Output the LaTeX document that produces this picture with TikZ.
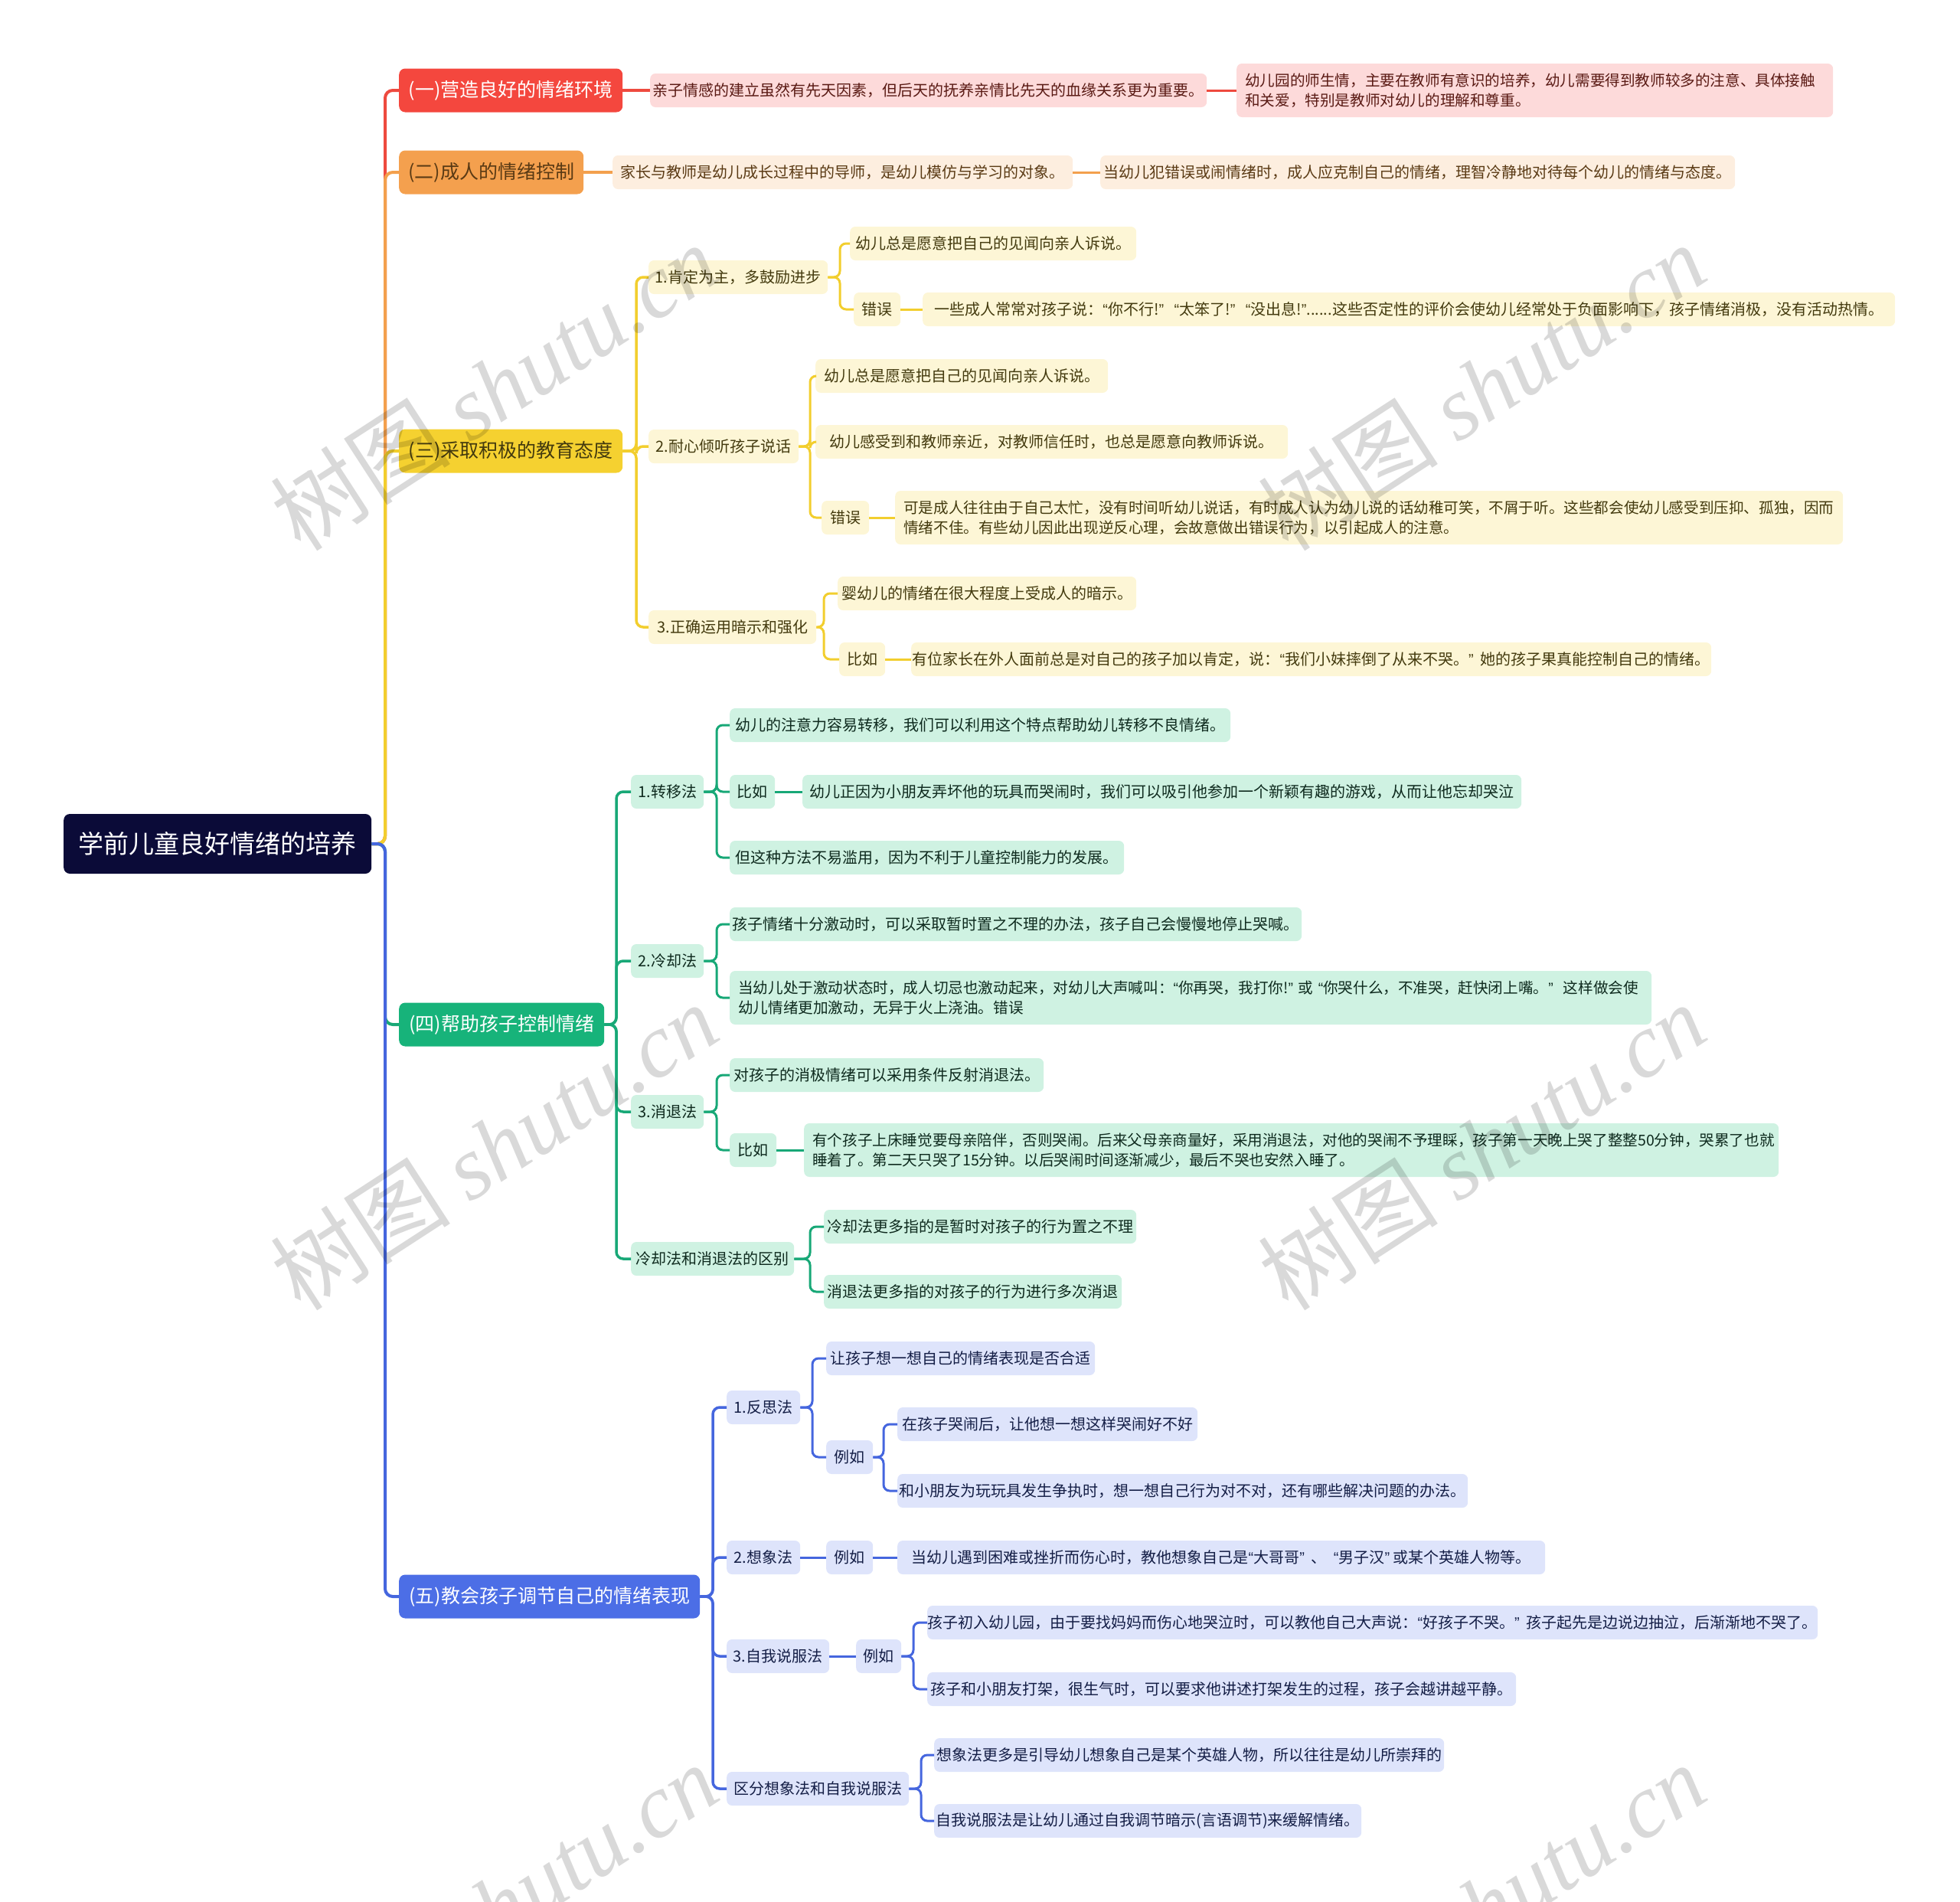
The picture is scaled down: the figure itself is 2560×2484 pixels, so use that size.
\documentclass[tikz,border=0pt]{standalone}
\usepackage{fontspec}
\newfontfamily\cjk{Noto Sans CJK SC}
\newfontfamily\latq{Liberation Sans}
\newfontfamily\wmserif{Liberation Serif}
\newcommand\qo{{\latq “}}
\newcommand\qc{{\latq ”}}
\usetikzlibrary{calc}
\definecolor{rootc}{HTML}{0B0B38}
\definecolor{redbox}{HTML}{F4473E}
\definecolor{redln}{HTML}{EE4A3F}
\definecolor{redlf}{HTML}{FDDADA}
\definecolor{redtx}{HTML}{5A1A14}
\definecolor{orgbox}{HTML}{F4A04E}
\definecolor{orgln}{HTML}{F3A04D}
\definecolor{orglf}{HTML}{FDEEDF}
\definecolor{orgtx}{HTML}{5A3A14}
\definecolor{yelbox}{HTML}{F5D130}
\definecolor{yelln}{HTML}{F2CE2E}
\definecolor{yellf}{HTML}{FDF6D6}
\definecolor{yeltx}{HTML}{433A0E}
\definecolor{grnbox}{HTML}{17B37A}
\definecolor{grnln}{HTML}{18A877}
\definecolor{grnlf}{HTML}{CFF2E2}
\definecolor{grntx}{HTML}{0E2A1E}
\definecolor{blubox}{HTML}{4C6EE6}
\definecolor{bluln}{HTML}{4566DE}
\definecolor{blulf}{HTML}{DEE4FB}
\definecolor{blutx}{HTML}{141E46}
\tikzset{
  nbase/.style={anchor=west, inner sep=0pt, rounded corners=7pt, font=\cjk\fontsize{20}{26}\selectfont, minimum height=44pt},
  rootbox/.style={nbase, fill=rootc, text=white, minimum height=78pt, font=\cjk\fontsize{33}{40}\selectfont, rounded corners=8pt},
  lone/.style={nbase, minimum height=57pt, font=\cjk\fontsize{25}{30}\selectfont, rounded corners=8pt},
  two/.style={minimum height=70pt, align=left, inner xsep=11pt, font=\cjk\fontsize{19.6}{26}\selectfont},
  rA/.style={lone, fill=redbox, text=white},
  oA/.style={lone, fill=orgbox, text=orgtx},
  yA/.style={lone, fill=yelbox, text=yeltx},
  gA/.style={lone, fill=grnbox, text=white},
  bA/.style={lone, fill=blubox, text=white},
  rL/.style={nbase, fill=redlf, text=redtx},
  oL/.style={nbase, fill=orglf, text=orgtx},
  yL/.style={nbase, fill=yellf, text=yeltx},
  gL/.style={nbase, fill=grnlf, text=grntx},
  bL/.style={nbase, fill=blulf, text=blutx},
  cone/.style={line width=4pt, rounded corners=10pt},
  ctwo/.style={line width=3.5pt, rounded corners=9pt},
  cthree/.style={line width=3pt, rounded corners=8pt},
  wmark/.style={anchor=center, rotate=33, text=black, text opacity=0.15, inner sep=0pt}
}
\newcommand\nd[6]{\node[#2, minimum width={#4pt-#3pt}] (#1) at (#3,#5) {#6};}
\newcommand\ndt[6]{\node[#2, two, text width={#4pt-#3pt-22pt}] (#1) at (#3,#5) {#6};}
\newcommand\cn[4]{\draw[#1] let \p1=(#2.east) in (\p1) -- (#4pt,\y1) |- (#3.west);}
\begin{document}
\begin{tikzpicture}[x=1pt,y=-1pt]
\useasboundingbox (0,0) rectangle (2560,2484);
% root
\nd{root}{rootbox}{83}{485}{1102}{学前儿童良好情绪的培养}
% level 1
\nd{a}{rA}{521}{813}{118}{(一)营造良好的情绪环境}
\nd{b}{oA}{521}{762}{225}{(二)成人的情绪控制}
\nd{c}{yA}{521}{813}{589}{(三)采取积极的教育态度}
\nd{d}{gA}{521}{789}{1338}{(四)帮助孩子控制情绪}
\nd{e}{bA}{521}{914}{2085}{(五)教会孩子调节自己的情绪表现}
% red
\nd{a1}{rL}{849}{1576}{118}{亲子情感的建立虽然有先天因素，但后天的抚养亲情比先天的血缘关系更为重要。}
\ndt{a2}{rL}{1615}{2394}{118}{幼儿园的师生情，主要在教师有意识的培养，幼儿需要得到教师较多的注意、具体接触\\和关爱，特别是教师对幼儿的理解和尊重。}
% orange
\nd{b1}{oL}{800}{1401}{225}{家长与教师是幼儿成长过程中的导师，是幼儿模仿与学习的对象。}
\nd{b2}{oL}{1437}{2266}{225}{当幼儿犯错误或闹情绪时，成人应克制自己的情绪，理智冷静地对待每个幼儿的情绪与态度。}
% yellow
\nd{c1}{yL}{847}{1081}{362}{1.肯定为主，多鼓励进步}
\nd{c2}{yL}{847}{1043}{583}{2.耐心倾听孩子说话}
\nd{c3}{yL}{847}{1066}{819}{3.正确运用暗示和强化}
\nd{c1a}{yL}{1110}{1484}{318}{幼儿总是愿意把自己的见闻向亲人诉说。}
\nd{c1b}{yL}{1115}{1176}{404}{错误}
\nd{c1bb}{yL}{1205}{2475}{404}{一些成人常常对孩子说：\qo 你不行!\qc\ \ \ \qo 太笨了!\qc\ \ \ \qo 没出息!\qc ......这些否定性的评价会使幼儿经常处于负面影响下，孩子情绪消极，没有活动热情。}
\nd{c2a}{yL}{1065}{1447}{491}{幼儿总是愿意把自己的见闻向亲人诉说。}
\nd{c2b}{yL}{1065}{1682}{577}{幼儿感受到和教师亲近，对教师信任时，也总是愿意向教师诉说。}
\nd{c2c}{yL}{1073}{1135}{676}{错误}
\ndt{c2cc}{yL}{1169}{2407}{676}{可是成人往往由于自己太忙，没有时间听幼儿说话，有时成人认为幼儿说的话幼稚可笑，不屑于听。这些都会使幼儿感受到压抑、孤独，因而\\情绪不佳。有些幼儿因此出现逆反心理，会故意做出错误行为，以引起成人的注意。}
\nd{c3a}{yL}{1094}{1484}{775}{婴幼儿的情绪在很大程度上受成人的暗示。}
\nd{c3b}{yL}{1096}{1156}{861}{比如}
\nd{c3bb}{yL}{1190}{2235}{861}{有位家长在外人面前总是对自己的孩子加以肯定，说：\qo 我们小妹摔倒了从来不哭。\qc\ \ 她的孩子果真能控制自己的情绪。}
% green
\nd{d1}{gL}{824}{919}{1034}{1.转移法}
\nd{d2}{gL}{824}{919}{1255}{2.冷却法}
\nd{d3}{gL}{824}{919}{1452}{3.消退法}
\nd{d4}{gL}{824}{1037}{1644}{冷却法和消退法的区别}
\nd{d1a}{gL}{953}{1607}{947}{幼儿的注意力容易转移，我们可以利用这个特点帮助幼儿转移不良情绪。}
\nd{d1b}{gL}{953}{1012}{1034}{比如}
\nd{d1bb}{gL}{1048}{1987}{1034}{幼儿正因为小朋友弄坏他的玩具而哭闹时，我们可以吸引他参加一个新颖有趣的游戏，从而让他忘却哭泣}
\nd{d1c}{gL}{953}{1468}{1120}{但这种方法不易滥用，因为不利于儿童控制能力的发展。}
\nd{d2a}{gL}{953}{1700}{1207}{孩子情绪十分激动时，可以采取暂时置之不理的办法，孩子自己会慢慢地停止哭喊。}
\ndt{d2b}{gL}{953}{2157}{1303}{当幼儿处于激动状态时，成人切忌也激动起来，对幼儿大声喊叫：\qo 你再哭，我打你!\qc\ 或\ \qo 你哭什么，不准哭，赶快闭上嘴。\qc\ \ 这样做会使\\幼儿情绪更加激动，无异于火上浇油。错误}
\nd{d3a}{gL}{953}{1363}{1404}{对孩子的消极情绪可以采用条件反射消退法。}
\nd{d3b}{gL}{953}{1014}{1502}{比如}
\ndt{d3bb}{gL}{1050}{2323}{1502}{有个孩子上床睡觉要母亲陪伴，否则哭闹。后来父母亲商量好，采用消退法，对他的哭闹不予理睬，孩子第一天晚上哭了整整50分钟，哭累了也就\\睡着了。第二天只哭了15分钟。以后哭闹时间逐渐减少，最后不哭也安然入睡了。}
\nd{d4a}{gL}{1076}{1484}{1602}{冷却法更多指的是暂时对孩子的行为置之不理}
\nd{d4b}{gL}{1076}{1465}{1687}{消退法更多指的对孩子的行为进行多次消退}
% blue
\nd{e1}{bL}{949}{1045}{1838}{1.反思法}
\nd{e2}{bL}{949}{1045}{2034}{2.想象法}
\nd{e3}{bL}{949}{1083}{2163}{3.自我说服法}
\nd{e4}{bL}{949}{1187}{2336}{区分想象法和自我说服法}
\nd{e1a}{bL}{1079}{1430}{1774}{让孩子想一想自己的情绪表现是否合适}
\nd{e1b}{bL}{1079}{1140}{1903}{例如}
\nd{e1b1}{bL}{1172}{1564}{1860}{在孩子哭闹后，让他想一想这样哭闹好不好}
\nd{e1b2}{bL}{1172}{1917}{1947}{和小朋友为玩玩具发生争执时，想一想自己行为对不对，还有哪些解决问题的办法。}
\nd{e2a}{bL}{1079}{1140}{2034}{例如}
\nd{e2aa}{bL}{1172}{2018}{2034}{当幼儿遇到困难或挫折而伤心时，教他想象自己是\qo 大哥哥\qc\ \ 、\ \ \qo 男子汉\qc\ 或某个英雄人物等。}
\nd{e3a}{bL}{1118}{1177}{2163}{例如}
\nd{e3a1}{bL}{1211}{2374}{2119}{孩子初入幼儿园，由于要找妈妈而伤心地哭泣时，可以教他自己大声说：\qo 好孩子不哭。\qc\ \ 孩子起先是边说边抽泣，后渐渐地不哭了。}
\nd{e3a2}{bL}{1211}{1980}{2206}{孩子和小朋友打架，很生气时，可以要求他讲述打架发生的过程，孩子会越讲越平静。}
\nd{e4a}{bL}{1220}{1886}{2292}{想象法更多是引导幼儿想象自己是某个英雄人物，所以往往是幼儿所崇拜的}
\nd{e4b}{bL}{1220}{1778}{2378}{自我说服法是让幼儿通过自我调节暗示(言语调节)来缓解情绪。}
% connectors root
\cn{cone,redln}{root}{a}{503}
\cn{cone,orgln}{root}{b}{503}
\cn{cone,yelln}{root}{c}{503}
\cn{cone,grnln}{root}{d}{503}
\cn{cone,bluln}{root}{e}{503}
% red / orange chains
\draw[ctwo,redln] (a.east) -- (a1.west);
\draw[cthree,redln] (a1.east) -- (a2.west);
\draw[ctwo,orgln] (b.east) -- (b1.west);
\draw[cthree,orgln] (b1.east) -- (b2.west);
% yellow
\cn{ctwo,yelln}{c}{c1}{831}
\cn{ctwo,yelln}{c}{c2}{831}
\cn{ctwo,yelln}{c}{c3}{831}
\cn{cthree,yelln}{c1}{c1a}{1097}
\cn{cthree,yelln}{c1}{c1b}{1097}
\draw[cthree,yelln] (c1b.east) -- (c1bb.west);
\cn{cthree,yelln}{c2}{c2a}{1058}
\cn{cthree,yelln}{c2}{c2b}{1058}
\cn{cthree,yelln}{c2}{c2c}{1058}
\draw[cthree,yelln] (c2c.east) -- (c2cc.west);
\cn{cthree,yelln}{c3}{c3a}{1076}
\cn{cthree,yelln}{c3}{c3b}{1076}
\draw[cthree,yelln] (c3b.east) -- (c3bb.west);
% green
\cn{ctwo,grnln}{d}{d1}{805}
\cn{ctwo,grnln}{d}{d2}{805}
\cn{ctwo,grnln}{d}{d3}{805}
\cn{ctwo,grnln}{d}{d4}{805}
\cn{cthree,grnln}{d1}{d1a}{936}
\cn{cthree,grnln}{d1}{d1b}{936}
\cn{cthree,grnln}{d1}{d1c}{936}
\draw[cthree,grnln] (d1b.east) -- (d1bb.west);
\cn{cthree,grnln}{d2}{d2a}{936}
\cn{cthree,grnln}{d2}{d2b}{936}
\cn{cthree,grnln}{d3}{d3a}{936}
\cn{cthree,grnln}{d3}{d3b}{936}
\draw[cthree,grnln] (d3b.east) -- (d3bb.west);
\cn{cthree,grnln}{d4}{d4a}{1058}
\cn{cthree,grnln}{d4}{d4b}{1058}
% blue
\cn{ctwo,bluln}{e}{e1}{931}
\cn{ctwo,bluln}{e}{e2}{931}
\cn{ctwo,bluln}{e}{e3}{931}
\cn{ctwo,bluln}{e}{e4}{931}
\cn{cthree,bluln}{e1}{e1a}{1061}
\cn{cthree,bluln}{e1}{e1b}{1061}
\cn{cthree,bluln}{e1b}{e1b1}{1154}
\cn{cthree,bluln}{e1b}{e1b2}{1154}
\draw[cthree,bluln] (e2.east) -- (e2a.west);
\draw[cthree,bluln] (e2a.east) -- (e2aa.west);
\draw[cthree,bluln] (e3.east) -- (e3a.west);
\cn{cthree,bluln}{e3a}{e3a1}{1193}
\cn{cthree,bluln}{e3a}{e3a2}{1193}
\cn{cthree,bluln}{e4}{e4a}{1203}
\cn{cthree,bluln}{e4}{e4b}{1203}
% watermarks
\begin{scope}
\clip (0,0) rectangle (2560,2484);
\foreach \wx/\wy [count=\i] in {645/505,1935/505,645/1497,1935/1497,645/2490,1935/2490}{
  \node[wmark] (wm\i) at (\wx,\wy) {\fontsize{118}{128}\selectfont\cjk 树图 \wmserif\itshape shutu.cn};
}
\end{scope}
\end{tikzpicture}
\end{document}
